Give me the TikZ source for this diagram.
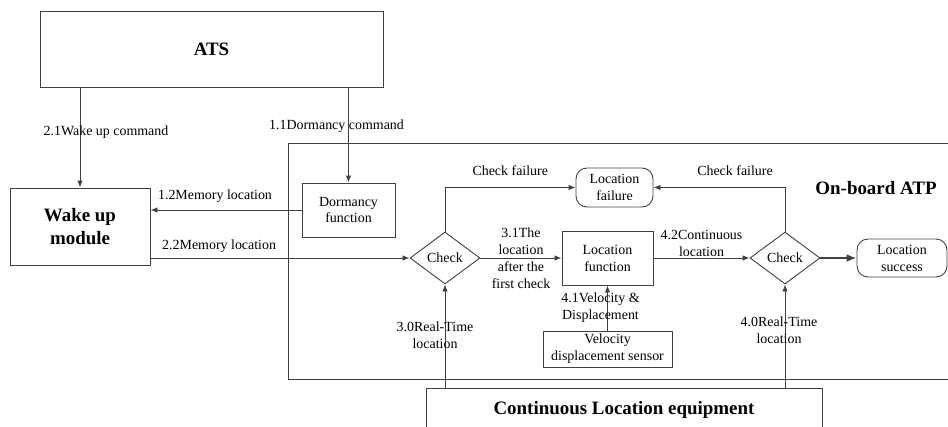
\documentclass[tikz,border=0pt]{standalone}
\usepackage{fontspec}
\setmainfont{Liberation Serif}
\usepackage{tikz}
\usetikzlibrary{arrows.meta,shapes,positioning,calc}
\definecolor{linegray}{RGB}{64,64,64}

\begin{document}
\begin{tikzpicture}[x=1bp, y=-1bp,
    every node/.style={font=\fontsize{14}{17}\selectfont, inner sep=0pt, align=center},
    big/.style={font=\fontsize{19}{23}\selectfont\bfseries},
    box/.style={draw=linegray, line width=.9bp},
    rbox/.style={box, rounded corners=11bp},
    chk/.style={diamond, box, minimum width=70bp, minimum height=52bp},
    conn/.style={draw=linegray, line width=.9bp, -{Latex[length=7bp, width=5.5bp]}}]
    \clip (0,0) rectangle (948,426);

    % ATS and wake up module
    \node[box, big, minimum width=343bp, minimum height=76bp] (ats) at (211.5,49) {ATS};
    \node[box, big, minimum width=140bp, minimum height=77bp] (wake) at (80,226.5) {Wake up\\module};

    % On-board ATP
    \draw[linegray, line width=.9bp] (288,143) rectangle (960,379);
    \node[big] (atp) at (876,188) {On-board ATP};
    \node[box, minimum width=93bp, minimum height=54bp] (dorm) at (348.5,210) {Dormancy\\function};
    \node[chk] (chk1) at (445,258) {Check};
    \node[rbox, minimum width=77bp, minimum height=39bp] (lfail) at (614.5,187.5) {Location\\failure};
    \node[box, minimum width=91bp, minimum height=54bp] (lfun) at (607.5,258) {Location\\function};
    \node[chk] (chk2) at (785,258) {Check};
    \node[rbox, minimum width=90bp, minimum height=38bp] (lsucc) at (902,258) {Location\\success};
    \node[box, minimum width=129bp, minimum height=36bp] (sensor) at (607.5,349) {Velocity\\displacement sensor};

    % Continuous location equipment
    \node[box, big, anchor=north, minimum width=396bp, inner ysep=10bp, text height=16bp, text depth=40bp] (cle) at (624,388) {Continuous Location equipment};

    % wake up / dormancy
    \draw[conn] (ats.south -| wake.north) -- node[pos=.45, xshift=26bp] {2.1Wake up command} (wake.north);
    \draw[conn] (ats.south -| dorm.north) -- node[pos=.41, xshift=-12bp] {1.1Dormancy command} (dorm.north);
    \draw[conn] (dorm.west) -- node[xshift=-11bp, yshift=14bp] {1.2Memory location} (dorm.west -| wake.east);
    \draw[conn] (chk1.west -| wake.east) -- node[pos=.265, yshift=12bp] {2.2Memory location} (chk1.west);

    % checks
    \draw[conn] (chk1.north) |- node[pos=.75, yshift=17bp] {Check failure} (lfail.west);
    \draw[conn] (chk2.north) |- node[pos=.69, yshift=17bp] {Check failure} (lfail.east);
    \draw[conn] (chk1.east) -- node {3.1The\\location\\after the\\first check} (lfun.west);
    \draw[conn] (lfun.east) -- node[yshift=14.5bp] {4.2Continuous\\location} (chk2.west);
    \draw[conn, line width=2bp, -{Latex[length=10bp, width=8bp]}] (chk2.east) -- (lsucc.west);
    \draw[conn] (sensor.north) -- node[xshift=-7bp] {4.1Velocity \&\\Displacement} (lfun.south);
    \draw[conn] (chk1.south |- cle.north) -- node[pos=.51, xshift=-10bp] {3.0Real-Time\\location} (chk1.south);
    \draw[conn] (chk2.south |- cle.north) -- node[pos=.56, xshift=-6bp] {4.0Real-Time\\location} (chk2.south);
\end{tikzpicture}
\end{document}
